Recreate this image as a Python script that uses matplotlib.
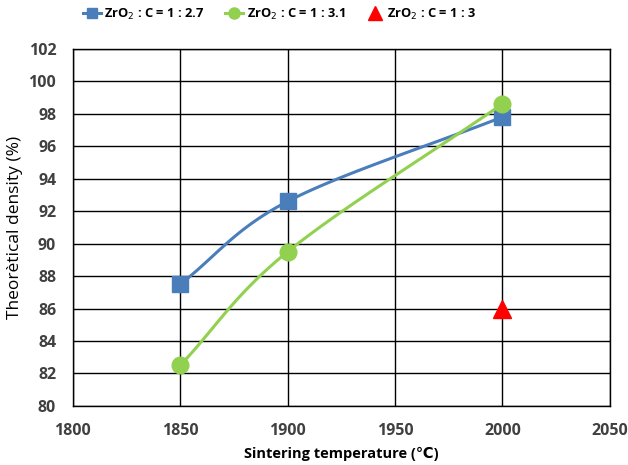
import numpy as np
import matplotlib
matplotlib.use("Agg")
import matplotlib.pyplot as plt

plt.rcParams['font.family'] = ['Open Sans', 'DejaVu Sans']

temps_27 = [1850, 1900, 2000]
dens_27 = [87.5, 92.6, 97.8]
temps_31 = [1850, 1900, 2000]
dens_31 = [82.5, 89.5, 98.6]
temps_3 = [2000]
dens_3 = [86.0]

labels = [r"ZrO$_2$ : C = 1 : 2.7", r"ZrO$_2$ : C = 1 : 3.1", r"ZrO$_2$ : C = 1 : 3"]


def smooth(x, y, n=40):
    # Excel-like smoothed line (Catmull-Rom through the points)
    x = np.asarray(x, float); y = np.asarray(y, float)
    px = np.concatenate([[2*x[0]-x[1]], x, [2*x[-1]-x[-2]]])
    py = np.concatenate([[2*y[0]-y[1]], y, [2*y[-1]-y[-2]]])
    xs, ys = [], []
    for i in range(1, len(px)-2):
        t = np.linspace(0, 1, n)
        for arr, out in ((px, xs), (py, ys)):
            p0, p1, p2, p3 = arr[i-1:i+3]
            out.extend(0.5*((2*p1) + (-p0+p2)*t + (2*p0-5*p1+4*p2-p3)*t**2
                            + (-p0+3*p1-3*p2+p3)*t**3))
    return np.array(xs), np.array(ys)


fig = plt.figure(figsize=(6.28, 4.65), dpi=100)
ax = fig.add_axes([0.116, 0.127, 0.855, 0.768])

blue, green = "#4a7ebb", "#92d050"
sx, sy = smooth(temps_27, dens_27)
ax.plot(sx, sy, color=blue, lw=2.2)
ax.plot(temps_27, dens_27, 's', color=blue, ms=11)
sx, sy = smooth(temps_31, dens_31)
ax.plot(sx, sy, color=green, lw=2.2)
ax.plot(temps_31, dens_31, 'o', color=green, ms=12)
ax.plot(temps_3, dens_3, '^', color="#ff0000", ms=13)

# legend handles
h1, = ax.plot([], [], 's-', color=blue, ms=7, lw=2.2)
h2, = ax.plot([], [], 'o-', color=green, ms=8, lw=2.2)
h3, = ax.plot([], [], '^', color="#ff0000", ms=10)
fig.legend([h1, h2, h3], labels, loc='upper center', bbox_to_anchor=(0.445, 1.01),
           ncol=3, frameon=False, handlelength=1.4,
           columnspacing=1.6, handletextpad=0.25,
           prop={'weight': 'bold', 'size': 9.3})

ax.set_xlim(1800, 2050)
ax.set_ylim(80, 102)
ax.set_xticks(np.arange(1800, 2051, 50))
ax.set_yticks(np.arange(80, 103, 2))
ax.grid(True, color="black", lw=1)
ax.set_axisbelow(True)
for s in ax.spines.values():
    s.set_color("black")
    s.set_linewidth(1)
ax.tick_params(length=0, pad=12, labelsize=11.5, colors="#404040")
for lab in ax.get_xticklabels() + ax.get_yticklabels():
    lab.set_fontweight('bold')
ax.set_xlabel("Sintering temperature (\u2103)", fontsize=10.5, fontweight='bold', labelpad=6)
ax.set_ylabel("Theorètical density (%)", fontsize=12.5, labelpad=4)

fig.savefig("out.png", dpi=100)
